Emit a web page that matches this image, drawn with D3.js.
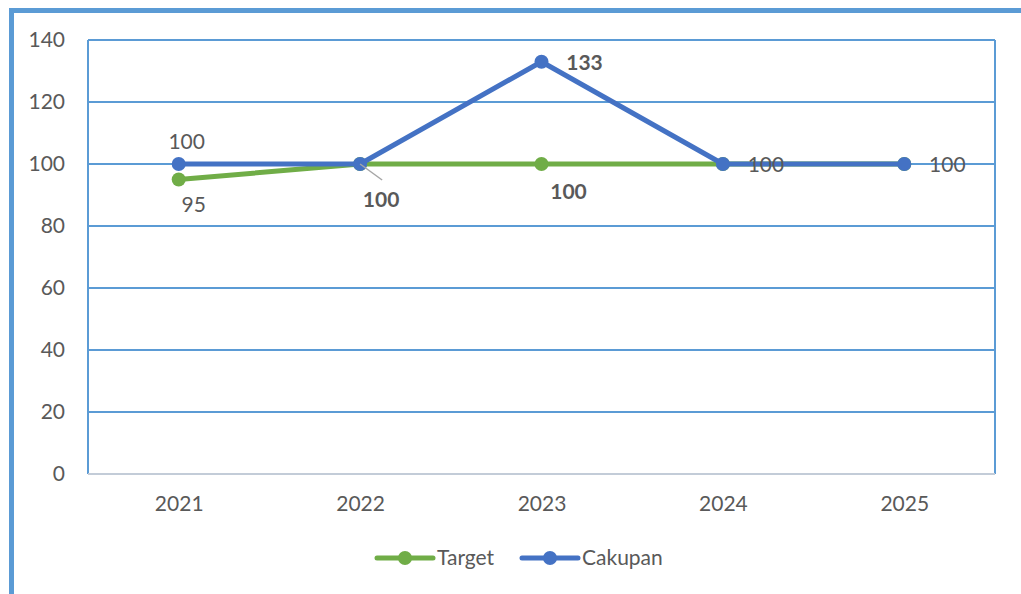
<!DOCTYPE html>
<html>
<head>
<meta charset="utf-8">
<script src="https://cdn.jsdelivr.net/npm/d3@7"></script>
<style>
  body { margin: 0; background: #fff; }
  svg text { font-family: Lato, "Noto Sans", sans-serif; fill: #595959; }
</style>
</head>
<body>
<svg id="chart" width="1021" height="594"></svg>
<script>
var years = ["2021", "2022", "2023", "2024", "2025"];
var target = [95, 100, 100, 100, 100];
var cakupan = [100, 100, 133, 100, 100];
var yTicks = [0, 20, 40, 60, 80, 100, 120, 140];

var svg = d3.select("#chart");
var margin = {left: 88, top: 40, right: 995, bottom: 474};

// outer frame (only top and left edges are visible)
svg.append("rect")
	.attr("x", 11.5).attr("y", 10.5)
	.attr("width", 1100).attr("height", 700)
	.attr("fill", "none")
	.attr("stroke", "#5B9BD5")
	.attr("stroke-width", 5);

var x = d3.scalePoint()
	.domain(years)
	.range([margin.left, margin.right])
	.padding(0.5);

var y = d3.scaleLinear()
	.domain([0, 140])
	.range([margin.bottom, margin.top]);

// gridlines
svg.append("g")
	.selectAll("line")
	.data(yTicks.filter(function (d) { return d > 0; }))
	.join("line")
	.attr("x1", margin.left).attr("x2", margin.right)
	.attr("y1", function (d) { return y(d); })
	.attr("y2", function (d) { return y(d); })
	.attr("stroke", "#5B9BD5")
	.attr("stroke-width", 2);

// plot border sides
svg.append("line")
	.attr("x1", margin.left).attr("x2", margin.left)
	.attr("y1", margin.top).attr("y2", margin.bottom)
	.attr("stroke", "#5B9BD5").attr("stroke-width", 2);
svg.append("line")
	.attr("x1", margin.right).attr("x2", margin.right)
	.attr("y1", margin.top).attr("y2", margin.bottom)
	.attr("stroke", "#5B9BD5").attr("stroke-width", 2);

// x axis base line
svg.append("line")
	.attr("x1", margin.left).attr("x2", margin.right)
	.attr("y1", margin.bottom).attr("y2", margin.bottom)
	.attr("stroke", "#C3CCD8").attr("stroke-width", 2);

// y axis labels
var yAxis = d3.axisLeft(y).tickValues(yTicks).tickSize(0).tickPadding(23);
var gy = svg.append("g").attr("transform", "translate(" + margin.left + ",0)").call(yAxis);
gy.select(".domain").remove();
gy.selectAll("text").style("font-size", "21px").attr("fill", "#595959");

// x axis labels
var xAxis = d3.axisBottom(x).tickSize(0).tickPadding(22);
var gx = svg.append("g").attr("transform", "translate(0," + margin.bottom + ")").call(xAxis);
gx.select(".domain").remove();
gx.selectAll("text").style("font-size", "21px").attr("fill", "#595959");

var line = d3.line()
	.x(function (d, i) { return x(years[i]); })
	.y(function (d) { return y(d); });

function drawSeries(values, color) {
	svg.append("path")
		.datum(values)
		.attr("d", line)
		.attr("fill", "none")
		.attr("stroke", color)
		.attr("stroke-width", 5)
		.attr("stroke-linejoin", "round");
	svg.append("g")
		.selectAll("circle")
		.data(values)
		.join("circle")
		.attr("cx", function (d, i) { return x(years[i]); })
		.attr("cy", function (d) { return y(d); })
		.attr("r", 7)
		.attr("fill", color);
}

drawSeries(target, "#70AD47");
drawSeries(cakupan, "#4472C4");

// leader line for 2022 label
svg.append("line")
	.attr("x1", x("2022")).attr("y1", y(target[1]))
	.attr("x2", x("2022") + 22).attr("y2", y(target[1]) + 16)
	.attr("stroke", "#A6A6A6").attr("stroke-width", 1.5);

// data labels: [series, index, dx, dy, bold]
var labels = [
	[cakupan, 0, 8, -22, false],
	[target, 0, 15, 25, false],
	[target, 1, 21, 36, true],
	[target, 2, 27, 28, true],
	[cakupan, 2, 43, 1, true],
	[cakupan, 3, 43, 1, false],
	[cakupan, 4, 43, 1, false]
];

svg.append("g")
	.selectAll("text")
	.data(labels)
	.join("text")
	.attr("x", function (d) { return x(years[d[1]]) + d[2]; })
	.attr("y", function (d) { return y(d[0][d[1]]) + d[3]; })
	.attr("dy", "0.35em")
	.attr("text-anchor", "middle")
	.style("font-size", "21px")
	.style("font-weight", function (d) { return d[4] ? "bold" : "normal"; })
	.attr("fill", "#404040")
	.text(function (d) { return d[0][d[1]]; });

// legend
var legend = [
	{name: "Target", color: "#70AD47", x: 377},
	{name: "Cakupan", color: "#4472C4", x: 522}
];
var lg = svg.append("g").selectAll("g").data(legend).join("g")
	.attr("transform", function (d) { return "translate(" + d.x + ",558)"; });
lg.append("line")
	.attr("x1", 0).attr("x2", 56)
	.attr("stroke", function (d) { return d.color; })
	.attr("stroke-width", 5)
	.attr("stroke-linecap", "round");
lg.append("circle")
	.attr("cx", 28).attr("r", 7)
	.attr("fill", function (d) { return d.color; });
lg.append("text")
	.attr("x", 60).attr("dy", "0.35em")
	.style("font-size", "21px")
	.attr("fill", "#595959")
	.text(function (d) { return d.name; });
</script>
</body>
</html>
